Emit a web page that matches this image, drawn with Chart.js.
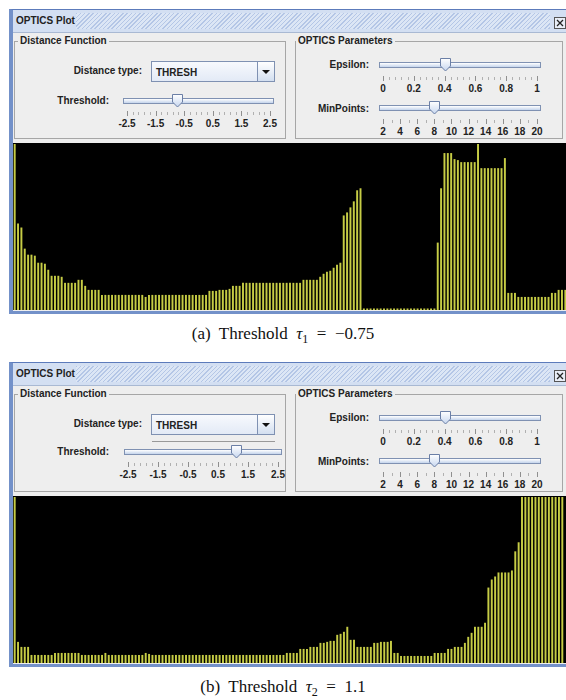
<!DOCTYPE html>
<html>
<head>
<meta charset="utf-8">
<script src="https://cdn.jsdelivr.net/npm/chart.js@4/dist/chart.umd.min.js"></script>
<style>
  body { margin: 0; width: 566px; height: 700px; position: relative; background: #fff; overflow: hidden;
         font-family: "Liberation Sans", Arial, sans-serif; }
  body div { position: absolute; box-sizing: border-box; }
  .b { font-weight: bold; font-size: 10px; color: #222; line-height: 14px; white-space: nowrap; }
  .cap { font-family: "Liberation Serif", "Times New Roman", serif; font-size: 17px; color: #111;
         width: 566px; left: 0; text-align: center; line-height: 20px; }
  canvas { position: absolute; }
</style>
</head>
<body>
<script>
// 可达距离 (OPTICS reachability)，按簇序排列
const barsA = [
  165, 86, 82, 61, 55, 55, 54, 47, 47, 46, 40, 34, 34, 34, 33, 27, 27, 27, 27, 30,
  30, 24, 20, 20, 20, 20, 15, 15, 15, 15, 15, 15, 15, 15, 15, 15, 15, 15, 15, 13,
  15, 15, 15, 15, 15, 15, 15, 15, 15, 15, 15, 15, 15, 15, 15, 15, 15, 15, 19, 19,
  19, 20, 20, 20, 21, 24, 24, 24, 27, 27, 27, 27, 27, 27, 27, 27, 27, 27, 27, 27,
  27, 27, 27, 27, 27, 27, 30, 30, 30, 30, 30, 33, 36, 38, 39, 42, 45, 47, 94, 97,
  102, 108, 119, 121, 1.5, 1.5, 1.5, 1.5, 1.5, 1.5, 1.5, 1.5, 1.5, 1.5, 1.5, 1.5, 1.5, 1.5, 1.5, 1.5,
  1.5, 1.5, 1.5, 1.5, 1.5, 1.5, 67, 121, 156, 156, 156, 150, 149, 147, 147, 147, 147, 147, 165, 141,
  141, 141, 141, 141, 141, 141, 151, 17, 17, 17, 13, 13, 13, 13, 13, 13, 13, 13, 13, 13,
  17, 17, 20, 20, 20
];
const barsB = [
  165, 21, 16, 16, 16, 8, 8, 8, 8, 8, 8, 8, 10, 10, 10, 10, 10, 10, 10, 10,
  8, 8, 8, 8, 8, 8, 8, 10, 8, 8, 8, 8, 8, 8, 8, 8, 8, 8, 8, 10,
  9, 8, 8, 8, 8, 8, 8, 8, 8, 8, 8, 8, 8, 8, 8, 8, 8, 8, 8, 8,
  8, 8, 8, 8, 8, 8, 8, 8, 8, 8, 8, 8, 8, 8, 8, 8, 8, 8, 8, 8,
  8, 10, 10, 10, 10, 14, 14, 14, 16, 16, 16, 20, 20, 21, 22, 22, 28, 29, 31, 36,
  23, 23, 16, 16, 16, 16, 16, 20, 20, 21, 21, 21, 22, 10, 10, 7, 7, 7, 7, 7,
  7, 7, 7, 7, 7, 10, 10, 10, 10, 14, 14, 16, 16, 16, 20, 26, 30, 36, 36, 36,
  40, 75, 83, 86, 90, 90, 90, 90, 92, 111, 120, 165, 165, 165, 165, 165, 165, 165, 165, 165,
  165, 165, 165, 165
];
const reachMax = 166;

// 滑块刻度
const thresholdTicks = ['-2.5', '-1.5', '-0.5', '0.5', '1.5', '2.5'];
const epsilonTicks = ['0', '0.2', '0.4', '0.6', '0.8', '1'];
const minPtsTicks = ['2', '4', '6', '8', '10', '12', '14', '16', '18', '20'];
const thresholds = [-0.75, 1.1];
const epsilon = 0.4;
const minPoints = 8;

function el(style, text, cls) {
    const e = document.createElement('div');
    Object.assign(e.style, style);
    if (cls) e.className = cls;
    if (text !== undefined) e.textContent = text;
    document.body.appendChild(e);
    return e;
}
const px = v => v + 'px';

function labelRight(xr, yc, text) {
    el({ left: px(xr - 150), top: px(yc - 7), width: '150px', textAlign: 'right' }, text, 'b');
}

function slider(dy, s) {
    const pos = v => s.x0 + (v - s.min) / (s.max - s.min) * (s.x1 - s.x0);
    // 轨道
    el({ left: px(s.x0 - 4), top: px(dy + s.y - 3), width: px(s.x1 - s.x0 + 8), height: '6px',
         border: '1px solid #7f91b2', background: 'linear-gradient(#ffffff, #c4d4ec)' });
    // 刻度线
    const n = Math.round((s.max - s.min) / s.minor);
    for (let k = 0; k <= n; k++) {
        const x = s.x0 + k * (s.x1 - s.x0) / n;
        const major = k % s.every === 0;
        el({ left: px(Math.round(x)), top: px(dy + s.tickY + (major ? 0 : 1)), width: '1px',
             height: px(major ? 5 : 3), background: major ? '#8f8f8f' : '#b0b0b0' });
    }
    // 刻度文字
    s.labels.forEach((t, k) => {
        const x = s.x0 + k * (s.x1 - s.x0) / (s.labels.length - 1);
        el({ left: px(x - 20), top: px(dy + s.labelY - 7), width: '40px', textAlign: 'center' }, t, 'b');
    });
    // 滑块
    const th = el({ left: px(Math.round(pos(s.value)) - 6), top: px(dy + s.y - 7), width: '13px', height: '14px' });
    th.innerHTML = '<svg width="13" height="14"><defs><linearGradient id="g" x1="0" y1="0" x2="0" y2="1">' +
        '<stop offset="0" stop-color="#ffffff"/><stop offset="1" stop-color="#c6d6ef"/></linearGradient></defs>' +
        '<path d="M1.5,0.5 H11.5 V8 L6.5,13 L1.5,8 Z" fill="url(#g)" stroke="#6b7fa6"/></svg>';
}

function buildWindow(dy, thr, bars, caption, capY) {
    // 窗口边框
    el({ left: '9px', top: px(9 + dy), width: '557px', height: '305px', background: '#eeeeee',
         borderLeft: '4px solid #7391c9', borderTop: '1px solid #5c7bbb', borderBottom: '3px solid #7391c9' });
    // 标题栏
    el({ left: '13px', top: px(10 + dy), width: '553px', height: '23px', background: '#d3dff2',
         borderBottom: '1px solid #a9b9d3' });
    el({ left: '76px', top: px(13 + dy), width: '474px', height: '16px',
         background: 'repeating-linear-gradient(135deg, #b4c6e6 0px, #b4c6e6 1px, #dce6f5 1px, #dce6f5 3px)' });
    el({ left: '16px', top: px(14 + dy) }, 'OPTICS Plot', 'b');
    const cl = el({ left: '554px', top: px(15 + dy), width: '12px', height: '12px' });
    cl.innerHTML = '<svg width="12" height="12"><rect x="0.5" y="0.5" width="11" height="11" fill="#e9eef7" stroke="#555"/>' +
        '<path d="M3,3 L9,9 M9,3 L3,9" stroke="#222" stroke-width="1.3"/></svg>';

    // 分组框
    el({ left: '14px', top: px(41 + dy), width: '272px', height: '98px', border: '1px solid #a6a6a6' });
    el({ left: '18px', top: px(34 + dy), background: '#eeeeee', padding: '0 2px' }, 'Distance Function', 'b');
    el({ left: '295px', top: px(41 + dy), width: '268px', height: '98px', border: '1px solid #a6a6a6' });
    el({ left: '296px', top: px(34 + dy), background: '#eeeeee', padding: '0 2px' }, 'OPTICS Parameters', 'b');

    // 距离类型下拉框
    labelRight(142, 71 + dy, 'Distance type:');
    el({ left: '151px', top: px(61 + dy), width: '124px', height: '21px', border: '1px solid #7f91b2',
         background: 'linear-gradient(#f7f9fd, #e3eaf6)' });
    el({ left: '156px', top: px(66 + dy) }, 'THRESH', 'b');
    const ar = el({ left: '257px', top: px(62 + dy), width: '17px', height: '19px', borderLeft: '1px solid #7f91b2',
                    background: 'linear-gradient(#ffffff, #d3dff0)' });
    ar.innerHTML = '<svg width="17" height="19"><path d="M4,8 H12 L8,12 Z" fill="#111"/></svg>';
    if (thr.line) {
        el({ left: '152px', top: px(88 + dy), width: '123px', height: '1px', background: '#999' });
    }

    labelRight(109, thr.ly + dy, 'Threshold:');
    slider(dy, { x0: thr.x0, x1: thr.x1, y: thr.y, tickY: thr.y + 10, labelY: thr.y + 23,
                 min: -2.5, max: 2.5, minor: 0.2, every: 5, labels: thresholdTicks, value: thr.value });

    labelRight(369, 65 + dy, 'Epsilon:');
    slider(dy, { x0: 383, x1: 537, y: 65, tickY: 76, labelY: 89,
                 min: 0, max: 1, minor: 0.04, every: 5, labels: epsilonTicks, value: epsilon });
    labelRight(369, 109 + dy, 'MinPoints:');
    slider(dy, { x0: 383, x1: 537, y: 108, tickY: 119, labelY: 132,
                 min: 2, max: 20, minor: 1, every: 2, labels: minPtsTicks, value: minPoints });

    // 可达图
    el({ left: '13px', top: px(143 + dy), width: '553px', height: '167px', background: '#000' });
    const canvas = document.createElement('canvas');
    canvas.width = Math.round(bars.length * 3.36);
    canvas.height = 167;
    canvas.style.left = '13px';
    canvas.style.top = px(143 + dy);
    document.body.appendChild(canvas);

    new Chart(canvas, {
        type: 'bar',
        data: {
            labels: bars.map((_, i) => i + 1),
            datasets: [{
                data: bars,
                backgroundColor: '#c6cc45',
                borderWidth: 0,
                barPercentage: 0.58,
                categoryPercentage: 1
            }]
        },
        options: {
            responsive: false,
            animation: false,
            events: [],
            layout: { padding: 0 },
            plugins: { legend: { display: false }, tooltip: { enabled: false } },
            scales: {
                x: { display: false },
                y: { display: false, min: 0, max: reachMax }
            }
        }
    });

    // 图注
    const c = el({ top: px(capY - 10) }, '', 'cap');
    c.innerHTML = caption;
}

buildWindow(0, { x0: 127, x1: 270, y: 101, ly: 101, value: thresholds[0], line: false }, barsA,
    '(a)&nbsp; Threshold&nbsp; <i>τ</i><sub style="font-size:12px">1</sub> &nbsp;=&nbsp; −0.75', 334);
buildWindow(353, { x0: 128, x1: 278, y: 99, ly: 99, value: thresholds[1], line: true }, barsB,
    '(b)&nbsp; Threshold&nbsp; <i>τ</i><sub style="font-size:12px">2</sub> &nbsp;=&nbsp; 1.1', 687);
</script>
</body>
</html>
